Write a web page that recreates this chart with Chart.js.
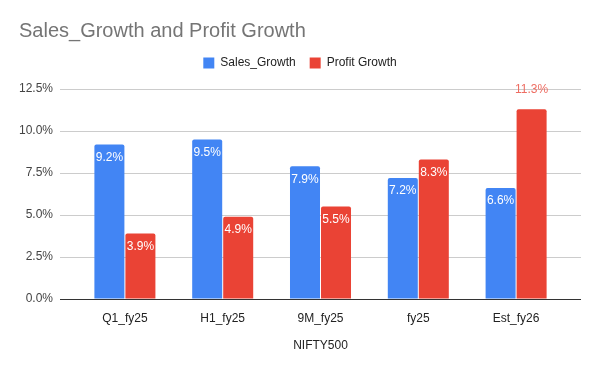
<!DOCTYPE html>
<html>
<head>
<meta charset="utf-8">
<script src="https://cdn.jsdelivr.net/npm/chart.js@4"></script>
<style>
  html, body { margin: 0; padding: 0; background: #fff; }
  #wrap { width: 600px; height: 371px; }
</style>
</head>
<body>
<div id="wrap"><canvas id="growthChart"></canvas></div>
<script>
// Dati
const categories = ['Q1_fy25', 'H1_fy25', '9M_fy25', 'fy25', 'Est_fy26'];
const salesGrowth = [9.2, 9.5, 7.9, 7.2, 6.6];
const profitGrowth = [3.9, 4.9, 5.5, 8.3, 11.3];
const yTicks = [0, 2.5, 5, 7.5, 10, 12.5];

const FONT = "'Liberation Sans', Arial, sans-serif";
Chart.defaults.font.family = FONT;

const fmt = v => Number(v).toFixed(1) + '%';

// Etichette sui valori delle barre
const barLabels = {
  id: 'barLabels',
  afterDatasetsDraw(chart) {
    const ctx = chart.ctx;
    const maxVal = Math.max(...salesGrowth, ...profitGrowth);
    ctx.save();
    ctx.font = '12px ' + FONT;
    ctx.textAlign = 'center';
    ctx.textBaseline = 'middle';
    chart.data.datasets.forEach((ds, i) => {
      chart.getDatasetMeta(i).data.forEach((bar, j) => {
        const v = ds.data[j];
        if (v === maxVal) {
          ctx.fillStyle = '#ee6d62';
          ctx.fillText(fmt(v), bar.x, bar.y - 19);
        } else {
          ctx.fillStyle = '#ffffff';
          ctx.fillText(fmt(v), bar.x, bar.y + 13);
        }
      });
    });
    ctx.restore();
  }
};

const ctx = document.getElementById('growthChart').getContext('2d');
const gridColor = c => (c.tick && c.tick.value === 0) ? '#333333' : '#cccccc';

const myChart = new Chart(ctx, {
  type: 'bar',
  data: {
    labels: categories,
    datasets: [{
      label: 'Sales_Growth',
      data: salesGrowth,
      backgroundColor: '#4285f4',
      borderRadius: { topLeft: 2, topRight: 2 },
      borderSkipped: 'start',
    }, {
      label: 'Profit Growth',
      data: profitGrowth,
      backgroundColor: '#ea4335',
      borderRadius: { topLeft: 2, topRight: 2 },
      borderSkipped: 'start',
    }],
  },
  options: {
    responsive: true,
    maintainAspectRatio: false,
    animation: false,
    categoryPercentage: 0.634,
    barPercentage: 0.968,
    layout: { padding: { left: 19, right: 19, top: 0, bottom: 0 } },
    plugins: {
      title: {
        display: true,
        text: 'Sales_Growth and Profit Growth',
        align: 'start',
        color: '#757575',
        font: { size: 20, weight: 'normal', lineHeight: 1.2 },
        padding: { top: 19, bottom: 0 },
      },
      subtitle: {
        display: true,
        text: '',
        weight: 500,
        font: { size: 10, lineHeight: 1 },
        padding: 0,
      },
      legend: {
        position: 'top',
        align: 'center',
        labels: {
          boxWidth: 11,
          boxHeight: 11,
          padding: 14,
          color: '#222222',
          font: { size: 12 },
        },
      },
      tooltip: { enabled: false },
    },
    scales: {
      x: {
        afterFit: s => { s.height = 72; },
        grid: { display: false, drawTicks: false },
        border: { display: false },
        ticks: { color: '#222222', font: { size: 12 }, padding: 12 },
        title: {
          display: true,
          text: 'NIFTY500',
          color: '#222222',
          font: { size: 12 },
          padding: { top: 12, bottom: 18 },
        },
      },
      y: {
        min: 0,
        max: 12.5,
        afterBuildTicks: s => { s.ticks = yTicks.map(v => ({ value: v })); },
        afterFit: s => { s.width = 57; },
        grid: { color: gridColor, tickLength: 16, lineWidth: 1 },
        border: { display: false },
        ticks: { color: '#444444', font: { size: 12 }, padding: 7, callback: v => fmt(v) },
      },
      y2: {
        position: 'right',
        display: true,
        min: 0,
        max: 12.5,
        afterBuildTicks: s => { s.ticks = yTicks.map(v => ({ value: v })); },
        afterFit: s => { s.width = 16; },
        grid: { color: gridColor, tickLength: 16, drawOnChartArea: false },
        border: { display: false },
        ticks: { display: false },
      },
    },
  },
  plugins: [barLabels],
});
</script>
</body>
</html>
